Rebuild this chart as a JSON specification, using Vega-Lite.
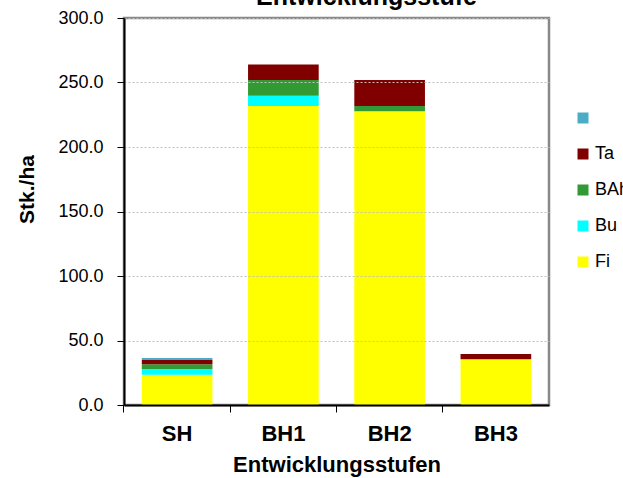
{
  "$schema": "https://vega.github.io/schema/vega-lite/v6.json",
  "width": 425,
  "height": 387,
  "autosize": {"type": "none"},
  "padding": {"left": 124, "top": 18, "right": 74, "bottom": 73},
  "background": "white",
  "title": {
    "text": "Entwicklungsstufe",
    "font": "Liberation Sans",
    "fontSize": 25,
    "fontWeight": "bold",
    "color": "black",
    "anchor": "middle",
    "frame": "group",
    "dx": 30,
    "baseline": "alphabetic",
    "offset": -21
  },
  "data": {
    "values": [
      {"Stufe": "SH", "Art": "Fi", "Wert": 23.5, "Rang": 1},
      {"Stufe": "SH", "Art": "Bu", "Wert": 4.4, "Rang": 2},
      {"Stufe": "SH", "Art": "BAh", "Wert": 3.6, "Rang": 3},
      {"Stufe": "SH", "Art": "Ta", "Wert": 3.3, "Rang": 4},
      {"Stufe": "SH", "Art": " ", "Wert": 1.6, "Rang": 5},
      {"Stufe": "BH1", "Art": "Fi", "Wert": 231.8, "Rang": 1},
      {"Stufe": "BH1", "Art": "Bu", "Wert": 8.0, "Rang": 2},
      {"Stufe": "BH1", "Art": "BAh", "Wert": 12.2, "Rang": 3},
      {"Stufe": "BH1", "Art": "Ta", "Wert": 11.9, "Rang": 4},
      {"Stufe": "BH2", "Art": "Fi", "Wert": 227.7, "Rang": 1},
      {"Stufe": "BH2", "Art": "BAh", "Wert": 4.1, "Rang": 3},
      {"Stufe": "BH2", "Art": "Ta", "Wert": 20.2, "Rang": 4},
      {"Stufe": "BH3", "Art": "Fi", "Wert": 35.4, "Rang": 1},
      {"Stufe": "BH3", "Art": "Ta", "Wert": 4.1, "Rang": 4}
    ]
  },
  "mark": {"type": "bar"},
  "encoding": {
    "x": {
      "field": "Stufe",
      "type": "nominal",
      "sort": ["SH", "BH1", "BH2", "BH3"],
      "scale": {"paddingInner": 0.335, "paddingOuter": 0.1675},
      "axis": {
        "title": "Entwicklungsstufen",
        "titleFont": "Liberation Sans",
        "titleFontSize": 22,
        "titleFontWeight": "bold",
        "titleColor": "black",
        "titleY": 66,
        "titleBaseline": "alphabetic",
        "labelFont": "Liberation Sans",
        "labelFontSize": 22,
        "labelFontWeight": "bold",
        "labelColor": "black",
        "labelAngle": 0,
        "labelBaseline": "alphabetic",
        "labelPadding": 28,
        "tickSize": 7,
        "tickColor": "black",
        "tickWidth": 1,
        "bandPosition": -0.252,
        "domainColor": "black",
        "domainWidth": 2,
        "grid": false,
        "zindex": 1
      }
    },
    "y": {
      "field": "Wert",
      "type": "quantitative",
      "stack": "zero",
      "scale": {"domain": [0, 300], "nice": false},
      "axis": {
        "title": "Stk./ha",
        "titleFont": "Liberation Sans",
        "titleFontSize": 21,
        "titleFontWeight": "bold",
        "titleColor": "black",
        "titleX": -91,
        "titleY": 171,
        "titleBaseline": "alphabetic",
        "values": [0, 50, 100, 150, 200, 250, 300],
        "format": ".1f",
        "labelFont": "Liberation Sans",
        "labelFontSize": 18,
        "labelColor": "black",
        "labelPadding": 14,
        "tickSize": 7,
        "tickColor": "black",
        "tickWidth": 1,
        "domainColor": "black",
        "domainWidth": 2,
        "grid": true,
        "gridColor": "#c0c0c0",
        "gridDash": [2, 2],
        "gridWidth": 1,
        "zindex": 1
      }
    },
    "color": {
      "field": "Art",
      "type": "nominal",
      "scale": {
        "domain": [" ", "Ta", "BAh", "Bu", "Fi"],
        "range": ["#4BACC6", "#800000", "#339933", "#00FFFF", "#FFFF00"]
      },
      "legend": {
        "title": null,
        "orient": "none",
        "legendX": 450,
        "legendY": 91,
        "symbolType": "square",
        "symbolSize": 121,
        "symbolStrokeWidth": 0,
        "symbolOpacity": 1,
        "labelFont": "Liberation Sans",
        "labelFontSize": 18,
        "labelColor": "black",
        "labelOffset": 3,
        "rowPadding": 18,
        "padding": 0
      }
    },
    "order": {"field": "Rang", "type": "quantitative"}
  },
  "config": {
    "view": {"stroke": "#888888", "strokeWidth": 2.5}
  }
}
